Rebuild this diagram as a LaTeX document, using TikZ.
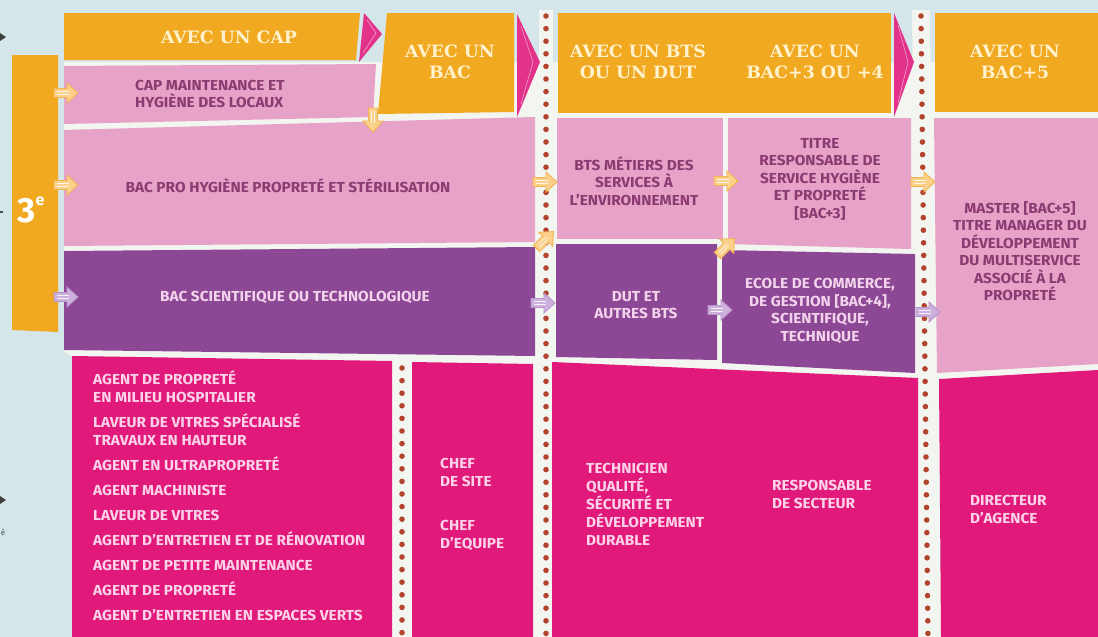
\documentclass[tikz,border=0pt]{standalone}
\usepackage{fontspec}
\newfontfamily\bodyf{Fira Sans}[FakeStretch=1.06]
\newfontfamily\plainf{Fira Sans}
\newfontfamily\headf{DejaVu Serif}[FakeStretch=1.02]
\definecolor{bg}{HTML}{D4E6E9}
\definecolor{gapc}{HTML}{F3F5F1}
\definecolor{orng}{HTML}{F1A922}
\definecolor{pinkl}{HTML}{E7A2C8}
\definecolor{purp}{HTML}{8C4894}
\definecolor{mag}{HTML}{E1197A}
\definecolor{hotp}{HTML}{E2328A}
\definecolor{dotc}{HTML}{B2442E}
\definecolor{cream}{HTML}{FFF2CC}
\definecolor{mauve}{HTML}{8A3B72}
\definecolor{lilac}{HTML}{F3D3EC}
\definecolor{rose}{HTML}{FBD2E7}
\definecolor{arrO}{HTML}{FAD08A}
\definecolor{arrOd}{HTML}{F2B24C}
\definecolor{arrP}{HTML}{CDB0DC}
\definecolor{arrPd}{HTML}{B892CB}
\tikzset{
  head/.style={text=cream, font=\headf\bfseries\fontsize{17}{21}\selectfont, align=center, inner sep=0},
  pinktxt/.style={text=mauve, font=\bodyf\bfseries\fontsize{14.5}{17.5}\selectfont, align=center, inner sep=0},
  purptxt/.style={text=lilac, font=\bodyf\bfseries\fontsize{14.5}{17.5}\selectfont, align=center, inner sep=0},
  magtxt/.style={text=rose, font=\bodyf\bfseries\fontsize{14.5}{18}\selectfont, align=left, inner sep=0},
  fatarrow/.pic={
    \path[pic actions] (-12,-4.5) -- (1,-4.5) -- (1,-10) -- (12,0) -- (1,10) -- (1,4.5) -- (-12,4.5) -- cycle;
    \draw[white, line width=0.7, opacity=.8] (-9,-1.4) -- (3,-1.4) (-9,1.4) -- (3,1.4);
  },
  oarr/.style={fill=arrO, draw=arrOd, line width=0.8},
  parr/.style={fill=arrP, draw=arrPd, line width=0.8},
  tri/.style={fill=hotp},
  triline/.style={draw=hotp!45!white, line width=0.6},
}
\begin{document}
\begin{tikzpicture}[x=1pt,y=-1pt]
% background
\fill[bg] (0,0) rectangle (1098,637);
\useasboundingbox (0,0) rectangle (1098,637);
% light backdrop behind the grid
\fill[gapc] (64,62) -- (1098,62) -- (1098,637) -- (72,637) -- (72,356) -- (64,352) -- cycle;
\fill[gapc] (539,10) rectangle (553,637);
\fill[gapc] (912,10) -- (930,10) -- (938,637) -- (918,637) -- cycle;
% left edge fragments
\fill[black!75] (0,33) -- (6,37) -- (0,41) -- cycle;
\fill[black!75] (0,496) -- (6,500) -- (0,504) -- cycle;
\fill[black!70] (0,211) rectangle (3,213);
\node[text=black!70, font=\plainf\fontsize{8}{8}\selectfont, inner sep=0] (frag) at (3,532) {é};
% 3e bar
\fill[orng] (12,55) -- (58,55) -- (58,332) -- (12,330) -- cycle;
\node[text=white, font=\plainf\bfseries\fontsize{35}{35}\selectfont, inner sep=0] (t3e) at (31,210) {3\raisebox{0.9ex}{\fontsize{16}{16}\selectfont e}};
% header row
\fill[orng] (64,13) -- (360,13) -- (356,60) -- (64,60) -- cycle;
\fill[tri] (364,13) -- (382,34) -- (359,62) -- cycle;
\draw[triline] (367,20) -- (376,33) -- (363,53);
\fill[orng] (387,13) -- (514,13) -- (514,112) -- (378,114) -- cycle;
\fill[tri] (517,14) -- (540,62) -- (517,117) -- cycle;
\draw[triline] (521,26) -- (533,62) -- (521,104);
\fill[orng] (558,13) -- (891,13) -- (891,113) -- (558,113) -- cycle;
\fill[tri] (894,13) -- (914,62) -- (894,117) -- cycle;
\draw[triline] (898,25) -- (908,62) -- (898,103);
\fill[orng] (935,13) -- (1098,13) -- (1098,112) -- (935,112) -- cycle;
% pink rows
\fill[pinkl] (64,66) -- (376,64) -- (373,117) -- (64,124) -- cycle;
\fill[pinkl] (64,130) -- (535,117) -- (535,242) -- (64,246) -- cycle;
\fill[pinkl] (557,118) -- (723,118) -- (723,239) -- (557,239) -- cycle;
\fill[pinkl] (728,118) -- (911,118) -- (911,249) -- (728,244) -- cycle;
\fill[pinkl] (934,118) -- (1098,118) -- (1098,364) -- (937,373) -- cycle;
% purple rows
\fill[purp] (64,251) -- (535,247) -- (535,356) -- (64,350) -- cycle;
\fill[purp] (556,244) -- (717,244) -- (717,360) -- (556,357) -- cycle;
\fill[purp] (722,250) -- (915,254) -- (915,373) -- (722,363) -- cycle;
% magenta rows
\fill[mag] (72,356) -- (392,361) -- (392,637) -- (72,637) -- cycle;
\fill[mag] (412,362) -- (533,364) -- (533,637) -- (412,637) -- cycle;
\fill[mag] (552,362) -- (918,378) -- (918,637) -- (552,637) -- cycle;
\fill[mag] (939,379) -- (1098,370) -- (1098,637) -- (941,637) -- cycle;
% dotted columns
\foreach \i in {0,...,49} \fill[dotc] (546,16+12.6*\i) circle (2.8);
\foreach \i in {0,...,49} \fill[dotc] (921+0.142*\i,16+12.6*\i) circle (2.8);
\foreach \i in {0,...,21} \fill[dotc] (402,368+12.6*\i) circle (2.8);
% arrows
\pic[oarr] at (66,93) {fatarrow};
\pic[oarr] at (66,185) {fatarrow};
\pic[parr] at (66,297) {fatarrow};
\pic[oarr, rotate=-90] at (373,120) {fatarrow};
\pic[oarr] at (545,182) {fatarrow};
\pic[oarr, rotate=45] at (545,240) {fatarrow};
\pic[parr] at (543,303) {fatarrow};
\pic[oarr] at (726,181) {fatarrow};
\pic[oarr, rotate=45] at (726,247) {fatarrow};
\pic[parr] at (720,310) {fatarrow};
\pic[oarr] at (923,182) {fatarrow};
\pic[parr] at (928,312) {fatarrow};
% header texts
\node[head] (hcap) at (229,37) {AVEC UN CAP};
\node[head] (hbac) at (450,62) {AVEC UN\\BAC};
\node[head] (hbts) at (638,62) {AVEC UN BTS\\OU UN DUT};
\node[head] (hbac34) at (815,62) {AVEC UN\\BAC+3 OU +4};
\node[head] (hbac5) at (1015,62) {AVEC UN\\BAC+5};
% pink texts
\node[pinktxt, align=left, anchor=west] (tcap) at (135,94) {CAP MAINTENANCE ET\\HYGIÈNE DES LOCAUX};
\node[pinktxt] (tbacpro) at (288,186) {BAC PRO HYGIÈNE PROPRETÉ ET STÉRILISATION};
\node[pinktxt] (tbts) at (634,181) {BTS MÉTIERS DES\\SERVICES À\\L’ENVIRONNEMENT};
\node[pinktxt] (ttitre) at (820,179) {TITRE\\RESPONSABLE DE\\SERVICE HYGIÈNE\\ET PROPRETÉ\\{[}BAC+3{]}};
\node[pinktxt] (tmaster) at (1020,251) {MASTER [BAC+5]\\TITRE MANAGER DU\\DÉVELOPPEMENT\\DU MULTISERVICE\\ASSOCIÉ À LA\\PROPRETÉ};
% purple texts
\node[purptxt] (tbacsci) at (295,297) {BAC SCIENTIFIQUE OU TECHNOLOGIQUE};
\node[purptxt] (tdut) at (636,305) {DUT ET\\AUTRES BTS};
\node[purptxt] (tecole) at (820,311) {ECOLE DE COMMERCE,\\DE GESTION [BAC+4],\\SCIENTIFIQUE,\\TECHNIQUE};
% magenta texts
\node[magtxt, anchor=north west] (tlist) at (93,370) {AGENT DE PROPRETÉ\\EN MILIEU HOSPITALIER\\[7pt]LAVEUR DE VITRES SPÉCIALISÉ\\TRAVAUX EN HAUTEUR\\[7pt]AGENT EN ULTRAPROPRETÉ\\[7pt]AGENT MACHINISTE\\[7pt]LAVEUR DE VITRES\\[7pt]AGENT D’ENTRETIEN ET DE RÉNOVATION\\[7pt]AGENT DE PETITE MAINTENANCE\\[7pt]AGENT DE PROPRETÉ\\[7pt]AGENT D’ENTRETIEN EN ESPACES VERTS};
\node[magtxt, anchor=west] (tchef1) at (440,472) {CHEF\\DE SITE};
\node[magtxt, anchor=west] (tchef2) at (440,535) {CHEF\\D’EQUIPE};
\node[magtxt, anchor=west] (ttech) at (586,504) {TECHNICIEN\\QUALITÉ,\\SÉCURITÉ ET\\DÉVELOPPEMENT\\DURABLE};
\node[magtxt, anchor=west] (tresp) at (772,494) {RESPONSABLE\\DE SECTEUR};
\node[magtxt, anchor=west] (tdir) at (970,509) {DIRECTEUR\\D’AGENCE};
\end{tikzpicture}
\end{document}
